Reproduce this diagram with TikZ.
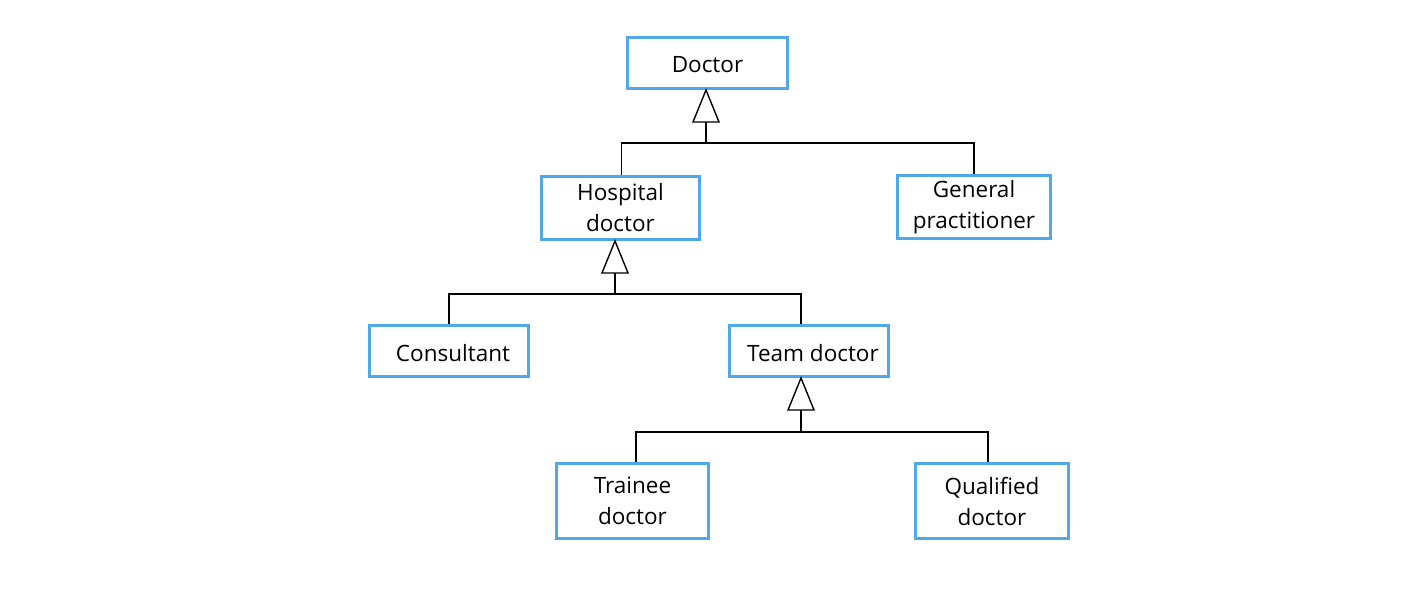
\documentclass[tikz,border=0pt]{standalone}
\usepackage{fontspec}
\setmainfont{Open Sans}
\definecolor{boxblue}{RGB}{80,168,232}
\tikzset{
  cls/.style={draw=boxblue, line width=3pt, fill=white, inner sep=0pt, align=center,
    font=\fontsize{22.5}{31}\selectfont},
  oneline/.style={text height=22pt, text depth=2pt},
  gen/.style={draw=black, line width=1.4pt},
  tri/.style={draw=black, line width=1.4pt, fill=white, line join=miter}
}
\begin{document}
\begin{tikzpicture}[x=1pt,y=-1pt]
\useasboundingbox (0,0) rectangle (1414,594);
% classes
\node[cls, oneline, minimum width=160pt, minimum height=51pt] (doc) at (707.5,63) {Doctor};
\node[cls, minimum width=158pt, minimum height=63pt] (hosp) at (620.5,208) {Hospital\\doctor};
\node[cls, minimum width=153pt, minimum height=63pt] (gp) at (974,207) {General\\practitioner};
\node[cls, oneline, minimum width=159pt, minimum height=51pt] (cons) at (449,351) {\hspace*{8pt}Consultant};
\node[cls, oneline, minimum width=159pt, minimum height=51pt] (team) at (809,351) {\hspace*{8pt}Team doctor};
\node[cls, minimum width=152pt, minimum height=75pt] (trn) at (632.5,501) {Trainee\\doctor};
\node[cls, minimum width=153pt, minimum height=75pt] (qual) at (992,501) {Qualified\\doctor};
% junction coordinates
\coordinate (a1) at (706,143);
\coordinate (a1l) at (621.5,143);
\coordinate (a2) at (615,294);
\coordinate (a2r) at (801,294);
\coordinate (a3) at (801,432);
\coordinate (a3l) at (636,432);
\coordinate (a3r) at (988,432);
% level 1
\draw[gen] (a1l |- hosp.north) -- (a1l) -- (gp.north |- a1) -- (gp.north);
\draw[gen] (doc.south -| a1) ++(0,32) -- (a1);
\draw[tri] (doc.south -| a1) -- ++(-13,32) -- ++(26,0) -- cycle;
% level 2
\draw[gen] (cons.north) -- (cons.north |- a2) -- (a2r) -- (a2r |- team.north);
\draw[gen] (hosp.south -| a2) ++(0,32) -- (a2);
\draw[tri] (hosp.south -| a2) -- ++(-13,32) -- ++(26,0) -- cycle;
% level 3
\draw[gen] (a3l |- trn.north) -- (a3l) -- (a3r) -- (a3r |- qual.north);
\draw[gen] (team.south -| a3) ++(0,32) -- (a3);
\draw[tri] (team.south -| a3) -- ++(-13,32) -- ++(26,0) -- cycle;
\end{tikzpicture}
\end{document}
